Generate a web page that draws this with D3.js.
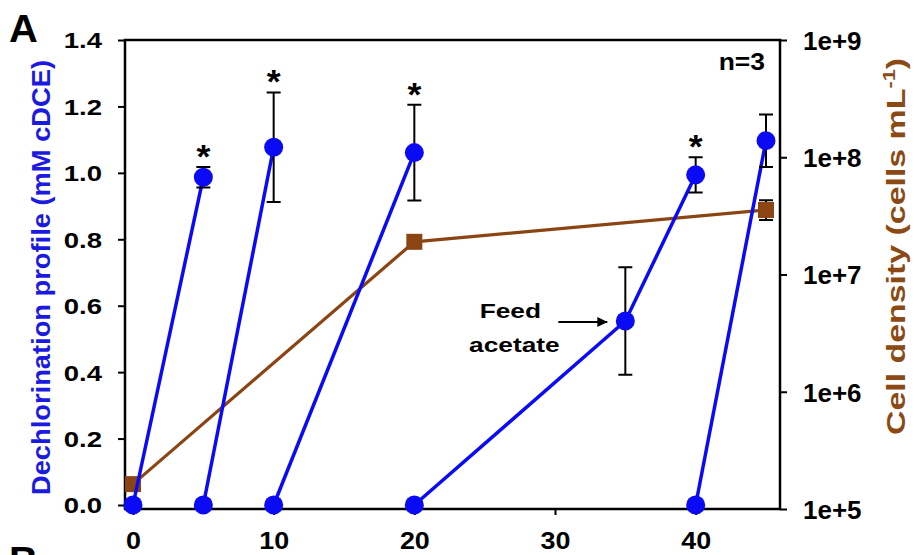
<!DOCTYPE html>
<html>
<head>
  <meta charset="utf-8">
  <script src="https://d3js.org/d3.v7.min.js"></script>
  <style>
    body{margin:0;background:#fff;}
    svg{display:block;font-family:"Liberation Sans",Arial,sans-serif;font-weight:bold;}
  </style>
</head>
<body>
<svg></svg>
<script>
// dechlorination (mM cDCE): each feeding cycle starts at 0 and climbs to a peak
var cycleDays   = [[0,5],[5,10],[10,20],[20,35,40],[40,45]];
var cycleValues = [[0,0.987],[0,1.077],[0,1.061],[0,0.554,0.994],[0,1.097]];
var cycleErrors = [[0,0.031],[0,0.165],[0,0.144],[0,0.162,0.053],[0,0.079]];
var cycleStar   = [true,true,true,true,false];   // * over the peak

// cell density (cells/mL), log axis
var cellDays  = [0,20,45];
var cellVals  = [1.63e5,1.9e7,3.55e7];
var cellLow   = [1.63e5,1.9e7,2.92e7];
var cellHigh  = [1.63e5,1.9e7,4.3e7];

var xTicks  = [0,10,20,30,40];
var yLTicks = [0,0.2,0.4,0.6,0.8,1.0,1.2,1.4];
var yRTicks = [1e5,1e6,1e7,1e8,1e9];

var feedDay = 35, feedVal = 0.554;

var W = 914, H = 555;
var blue = "#0a0af5", brown = "#8b4513";
var boxL = 125, boxR = 780, boxT = 40, boxB = 509;

var svg = d3.select("svg").attr("width", W).attr("height", H);

var x  = d3.scaleLinear().domain([0,45]).range([133,766]);
var yL = d3.scaleLinear().domain([0,1.4]).range([505,40]);
var yR = d3.scaleLog().domain([1e5,1e9]).range([509,40]);

// stretched text helper (the figure's lettering is wider than normal)
function label(txt, px, py, size, sx, anchor, fill){
  return svg.append("text")
    .attr("transform","translate("+px+","+py+") scale("+sx+",1)")
    .attr("text-anchor",anchor)
    .style("font-size",size+"px")
    .attr("fill",fill || "#000")
    .text(txt);
}

// frame
svg.append("rect")
  .attr("x",boxL).attr("y",boxT).attr("width",boxR-boxL).attr("height",boxB-boxT)
  .attr("fill","none").attr("stroke","#000").attr("stroke-width",2.5);

// axes (ticks only, frame draws the lines)
var gL = svg.append("g").attr("transform","translate("+boxL+",0)")
  .call(d3.axisLeft(yL).tickValues(yLTicks).tickSize(7).tickSizeOuter(0).tickFormat(d3.format(".1f")));
var gR = svg.append("g").attr("transform","translate("+boxR+",0)")
  .call(d3.axisRight(yR).tickValues(yRTicks).tickSize(7).tickSizeOuter(0)
    .tickFormat(function(d){ return "1e+" + Math.round(Math.log10(d)); }));
var gB = svg.append("g").attr("transform","translate(0,"+boxB+")")
  .call(d3.axisBottom(x).tickValues(xTicks).tickSize(6).tickSizeOuter(0));

[gL,gR,gB].forEach(function(g){
  g.select(".domain").remove();
  g.selectAll(".tick line").attr("stroke","#000").attr("stroke-width",2);
  g.selectAll("text").attr("fill","#000").style("font-family",null).attr("font-size",null);
});
gL.selectAll("text").style("font-size","22px").attr("x",-23/1.25).attr("dy","0.36em")
  .attr("transform","scale(1.25,1)");
gR.selectAll("text").style("font-size","26px").attr("x",23).attr("dy","0.36em");
gB.selectAll("text").style("font-size","24px").attr("y",40).attr("dy",0)
  .attr("transform","scale(1.12,1)").attr("x",0);

// cell density line
var cellPts = cellDays.map(function(d,i){ return [x(d), yR(cellVals[i])]; });
svg.append("path").attr("d", d3.line()(cellPts))
  .attr("fill","none").attr("stroke",brown).attr("stroke-width",3.2);
svg.selectAll(".cellerr").data(cellDays).enter().append("path")
  .attr("d",function(d,i){
    var cx = x(d), a = yR(cellHigh[i]), b = yR(cellLow[i]);
    return "M"+(cx-7)+","+a+"H"+(cx+7)+"M"+cx+","+a+"V"+b+"M"+(cx-7)+","+b+"H"+(cx+7);
  })
  .attr("stroke","#000").attr("stroke-width",2).attr("fill","none");
svg.selectAll(".cellsq").data(cellPts).enter().append("rect")
  .attr("x",function(p){ return p[0]-8; }).attr("y",function(p){ return p[1]-8; })
  .attr("width",16).attr("height",16).attr("fill",brown);

// dechlorination cycles
cycleDays.forEach(function(days,k){
  var vals = cycleValues[k], errs = cycleErrors[k];
  var pts = days.map(function(d,i){ return [x(d), yL(vals[i])]; });
  svg.append("path").attr("d", d3.line()(pts))
    .attr("fill","none").attr("stroke",blue).attr("stroke-width",3.5);
  days.forEach(function(d,i){
    if(errs[i] > 0){
      var cx = x(d), a = yL(vals[i]+errs[i]), b = yL(vals[i]-errs[i]);
      svg.append("path")
        .attr("d","M"+(cx-7)+","+a+"H"+(cx+7)+"M"+cx+","+a+"V"+b+"M"+(cx-7)+","+b+"H"+(cx+7))
        .attr("stroke","#000").attr("stroke-width",2).attr("fill","none");
    }
  });
  pts.forEach(function(p){
    svg.append("circle").attr("cx",p[0]).attr("cy",p[1]).attr("r",9.5).attr("fill",blue);
  });
  if(cycleStar[k]){
    var last = days.length-1;
    label("*", x(days[last]), yL(vals[last]+errs[last])+1, 34, 1.05, "middle");
  }
});

// annotation
var fx = x(feedDay), fy = yL(feedVal);
label("Feed", fx-115, fy-3, 21, 1.25, "middle");
label("acetate", fx-111, fy+31, 21, 1.25, "middle");
svg.append("defs").append("marker").attr("id","ah")
  .attr("viewBox","0 0 10 10").attr("refX",10).attr("refY",5)
  .attr("markerWidth",5).attr("markerHeight",5).attr("orient","auto")
  .append("path").attr("d","M0,0L10,5L0,10z").attr("fill","#000");
svg.append("line").attr("x1",fx-67).attr("x2",fx-18).attr("y1",fy+1).attr("y2",fy+1)
  .attr("stroke","#000").attr("stroke-width",2).attr("marker-end","url(#ah)");

label("n=3", 765, 70, 23, 1.15, "end");
label("A", 9, 42, 38, 1.05, "start");
label("B", 9, 574, 38, 1.05, "start");

// axis titles
svg.append("text")
  .attr("transform","translate(50,277.5) rotate(-90)")
  .attr("text-anchor","middle").attr("fill","#1a1ae0")
  .attr("textLength",435).attr("lengthAdjust","spacingAndGlyphs")
  .style("font-size","25px")
  .text("Dechlorination profile (mM cDCE)");

var rt = svg.append("text")
  .attr("transform","translate(905,246.5) rotate(-90)")
  .attr("text-anchor","middle").attr("fill","#8b4a14")
  .attr("textLength",377).attr("lengthAdjust","spacingAndGlyphs")
  .style("font-size","25px");
rt.append("tspan").text("Cell density (cells mL");
rt.append("tspan").attr("dy",-10).style("font-size","16px").text("-1");
rt.append("tspan").attr("dy",10).text(")");
</script>
</body>
</html>
